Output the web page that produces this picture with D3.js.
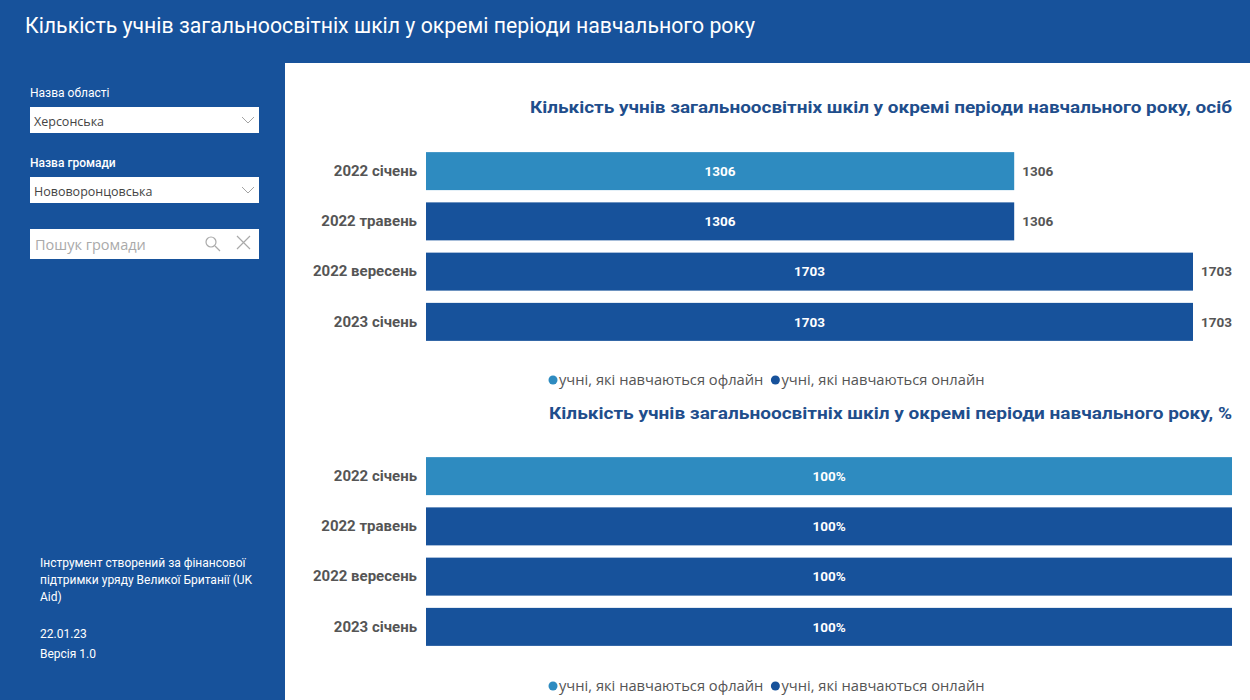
<!DOCTYPE html>
<html>
<head>
<meta charset="utf-8">
<script src="https://cdn.jsdelivr.net/npm/d3@7"></script>
<style>
  body { margin: 0; background: #17529b; }
  svg { display: block; font-family: Roboto, "Open Sans", sans-serif; }
</style>
</head>
<body>
<div id="page"></div>
<script>

// data
const periods = ["2022 січень", "2022 травень", "2022 вересень", "2023 січень"]
const seriesNames = ["учні, які навчаються офлайн", "учні, які навчаються онлайн"]
const offlineCount = [1306, 0, 0, 0]
const onlineCount = [0, 1306, 1703, 1703]
const offlinePct = [100, 0, 0, 0]
const onlinePct = [0, 100, 100, 100]

const pageTitle = "Кількість учнів загальноосвітніх шкіл у окремі періоди навчального року"
const chartTitle1 = "Кількість учнів загальноосвітніх шкіл у окремі періоди навчального року, осіб"
const chartTitle2 = "Кількість учнів загальноосвітніх шкіл у окремі періоди навчального року, %"
const footerLines = ["Інструмент створений за фінансової", "підтримки уряду Великої Британії (UK", "Aid)"]

const W = 1250, H = 700
const blue = "#17529b", light = "#2e8bc0"
const colors = [light, blue]

const svg = d3.select('#page').append('svg').attr("width", W).attr("height", H)

// background + white panel
svg.append('rect').attr("width", W).attr("height", H).attr("fill", blue)
svg.append('rect').attr("x", 285).attr("y", 63).attr("width", W - 285).attr("height", H - 63).attr("fill", "#fff")

svg.append('text').attr("x", 25).attr("y", 33)
  .attr("fill", "#fff").attr("font-size", 22)
  .attr("textLength", 730).attr("lengthAdjust", "spacingAndGlyphs")
  .text(pageTitle)

////sidebar
const side = svg.append('g')

function slicer(label, value, y, bold) {
  side.append('text').attr("x", 30).attr("y", y).attr("fill", "#fff")
    .attr("font-size", 12).attr("font-weight", bold ? 500 : 400).text(label)
  side.append('rect').attr("x", 30).attr("y", y + 10).attr("width", 229).attr("height", 26).attr("fill", "#fff")
  side.append('text').attr("x", 34).attr("y", y + 29).attr("fill", "#444")
    .attr("font-family", "'Open Sans', sans-serif").attr("font-size", 12.5).text(value)
  side.append('path').attr("d", `M${242},${y + 20} l6,6 l6,-6`)
    .attr("fill", "none").attr("stroke", "#999").attr("stroke-width", 0.9)
}
slicer("Назва області", "Херсонська", 97, false)
slicer("Назва громади", "Нововоронцовська", 167, true)

side.append('rect').attr("x", 30).attr("y", 229).attr("width", 229).attr("height", 30).attr("fill", "#fff")
side.append('text').attr("x", 35).attr("y", 250).attr("fill", "#aaa")
  .attr("font-family", "'Open Sans', sans-serif").attr("font-size", 14.5).text("Пошук громади")
side.append('circle').attr("cx", 211).attr("cy", 242).attr("r", 5).attr("fill", "none").attr("stroke", "#aaa").attr("stroke-width", 1.2)
side.append('path').attr("d", "M215,246 l5,5").attr("stroke", "#aaa").attr("stroke-width", 1.2)
side.append('path').attr("d", "M237,236 l13,13 M250,236 l-13,13").attr("stroke", "#aaa").attr("stroke-width", 1.2)

footerLines.forEach((t, i) => {
  side.append('text').attr("x", 40).attr("y", 567 + i * 17).attr("fill", "#fff").attr("font-size", 12).text(t)
})
side.append('text').attr("x", 40).attr("y", 638).attr("fill", "#fff").attr("font-size", 12).text("22.01.23")
side.append('text').attr("x", 40).attr("y", 658).attr("fill", "#fff").attr("font-size", 12).text("Версія 1.0")

////the bars
function barChart(cfg) {
  const g = svg.append('g')

  g.append('text').attr("x", cfg.titleX).attr("y", cfg.titleY)
    .attr("fill", "#1f4e8c").attr("font-size", 16).attr("font-weight", 700)
    .attr("textLength", 1232 - cfg.titleX).attr("lengthAdjust", "spacingAndGlyphs")
    .text(cfg.title)

  const rows = periods.map((p, i) => ({ period: p, off: cfg.off[i], on: cfg.on[i] }))
  const stacked = d3.stack().keys(["off", "on"])(rows)

  const x = d3.scaleLinear().domain([0, d3.max(rows, d => d.off + d.on)]).range([426, cfg.xMax])
  const y = d3.scaleBand().domain(periods).range(cfg.yRange).paddingInner(0.244).paddingOuter(0.122)

  const axis = d3.axisLeft(y).tickSize(0).tickPadding(9)
  const ax = g.append('g').attr("transform", "translate(426,0)").call(axis)
  ax.select(".domain").remove()
  ax.selectAll("text").attr("font-size", 15).attr("font-weight", 700).attr("fill", "#555")
    .attr("font-family", "Roboto, sans-serif")

  stacked.forEach((s, k) => {
    g.append('g').selectAll('rect')
      .data(s.filter(d => d[1] > d[0]))
      .enter()
      .append('rect')
      .attr("x", d => x(d[0]))
      .attr("y", d => y(d.data.period))
      .attr("width", d => x(d[1]) - x(d[0]))
      .attr("height", y.bandwidth())
      .attr("fill", colors[k])

    g.append('g').selectAll('text')
      .data(s.filter(d => d[1] > d[0]))
      .enter()
      .append('text')
      .attr("x", d => (x(d[0]) + x(d[1])) / 2)
      .attr("y", d => y(d.data.period) + y.bandwidth() / 2)
      .attr("dy", "0.35em").attr("text-anchor", "middle")
      .attr("fill", "#fff").attr("font-size", 13.5).attr("font-weight", 700)
      .text(d => (d[1] - d[0]) + cfg.suffix)
  })

  if (cfg.totals) {
    g.append('g').selectAll('text')
      .data(rows)
      .enter()
      .append('text')
      .attr("x", d => x(d.off + d.on) + 8)
      .attr("y", d => y(d.period) + y.bandwidth() / 2)
      .attr("dy", "0.35em")
      .attr("fill", "#555").attr("font-size", 13.5).attr("font-weight", 700)
      .text(d => d.off + d.on)
  }

  // legend
  const lg = g.append('g').attr("transform", `translate(553,${cfg.legendY})`)
  let lx = 0
  seriesNames.forEach((n, i) => {
    lg.append('circle').attr("cx", lx).attr("cy", 0).attr("r", 4.5).attr("fill", colors[i])
    const t = lg.append('text').attr("x", lx + 6).attr("y", 0).attr("dy", "0.35em")
      .attr("font-family", "'Open Sans', sans-serif")
      .attr("fill", "#555").attr("font-size", 14.7).text(n)
    lx += 6 + t.node().getComputedTextLength() + 12
  })
}

barChart({ title: chartTitle1, titleX: 530, titleY: 113, off: offlineCount, on: onlineCount,
  xMax: 1193, yRange: [146, 347], suffix: "", totals: true, legendY: 380 })
barChart({ title: chartTitle2, titleX: 549, titleY: 419, off: offlinePct, on: onlinePct,
  xMax: 1232, yRange: [451, 652], suffix: "%", totals: false, legendY: 686 })

</script>
</body>
</html>
